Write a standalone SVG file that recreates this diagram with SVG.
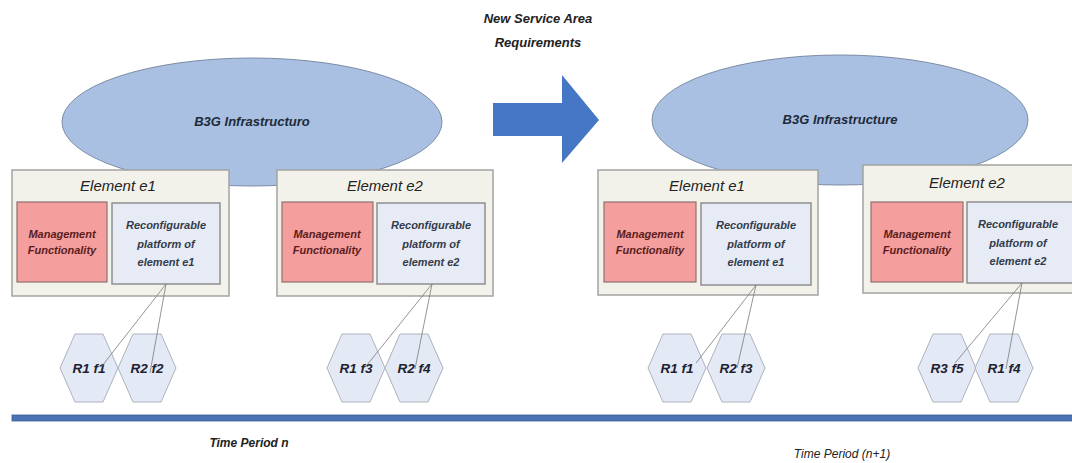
<svg xmlns="http://www.w3.org/2000/svg" width="1072" height="463" viewBox="0 0 1072 463">
<style>
text{font-family:"Liberation Sans",Arial,sans-serif;font-style:italic;fill:#222;text-anchor:middle}
.cloud{fill:#a9c0e2;stroke:#7d8ca6;stroke-width:1}
.elem{fill:#f2f2ea;stroke:#a2a2a2;stroke-width:1.5}
.mgmt{fill:#f49e9e;stroke:#8e7070;stroke-width:1.2}
.reco{fill:#e7ebf6;stroke:#8e8e8e;stroke-width:1.5}
.hex{fill:#e3e9f5;stroke:#aeb2bc;stroke-width:1}
.t-cloud{font-size:13px;font-weight:bold;fill:#1e2a3a}
.t-elem{font-size:15px}
.t-mgmt{font-size:11px;font-weight:bold;fill:#5a1c1c}
.t-reco{font-size:11px;font-weight:bold;fill:#333b4a}
.t-hex{font-size:13.5px;font-weight:bold;fill:#1e2230}
.t-head{font-size:13px;font-weight:bold}
.t-time{font-size:12px}
.conn{stroke:#7a7a7a;stroke-width:0.8;fill:none}
</style>
<defs>
<polygon id="hexshape" points="-29,0 -14,-34 14,-34 29,0 14,34 -14,34"/>
</defs>
<rect width="1072" height="463" fill="#ffffff"/>

<g id="label-new-service">
<text class="t-head" x="538" y="23">New Service Area</text>
<text class="t-head" x="538" y="47">Requirements</text>
</g>

<g id="cloud-left">
<ellipse class="cloud" cx="252" cy="122" rx="190" ry="64"/>
<text class="t-cloud" x="252" y="126">B3G Infrastructuro</text>
</g>
<g id="cloud-right">
<ellipse class="cloud" cx="840" cy="120" rx="188" ry="65"/>
<text class="t-cloud" x="840" y="124">B3G Infrastructure</text>
</g>

<g id="transition-arrow">
<polygon points="493,103 562,103 562,75 599,120 562,163 562,136 493,136" fill="#4677c4"/>
</g>

<g id="left-e1">
<rect class="elem" x="12" y="170" width="217" height="126"/>
<text class="t-elem" x="118" y="191">Element e1</text>
<rect class="mgmt" x="17" y="202" width="90" height="80"/>
<text class="t-mgmt" x="62" y="238">Management</text>
<text class="t-mgmt" x="62" y="254">Functionality</text>
<rect class="reco" x="112" y="203" width="108" height="81"/>
<text class="t-reco" x="166" y="229">Reconfigurable</text>
<text class="t-reco" x="166" y="248">platform of</text>
<text class="t-reco" x="166" y="266">element e1</text>
</g>

<g id="left-e2">
<rect class="elem" x="277" y="170" width="216" height="126"/>
<text class="t-elem" x="385" y="191">Element e2</text>
<rect class="mgmt" x="282" y="202" width="91" height="80"/>
<text class="t-mgmt" x="327" y="238">Management</text>
<text class="t-mgmt" x="327" y="254">Functionality</text>
<rect class="reco" x="377" y="203" width="108" height="81"/>
<text class="t-reco" x="431" y="229">Reconfigurable</text>
<text class="t-reco" x="431" y="248">platform of</text>
<text class="t-reco" x="431" y="266">element e2</text>
</g>

<g id="right-e1">
<rect class="elem" x="598" y="170" width="220" height="125"/>
<text class="t-elem" x="707" y="191">Element e1</text>
<rect class="mgmt" x="604" y="202" width="92" height="80"/>
<text class="t-mgmt" x="650" y="238">Management</text>
<text class="t-mgmt" x="650" y="254">Functionality</text>
<rect class="reco" x="701" y="203" width="110" height="82"/>
<text class="t-reco" x="756" y="229">Reconfigurable</text>
<text class="t-reco" x="756" y="248">platform of</text>
<text class="t-reco" x="756" y="266">element e1</text>
</g>

<g id="right-e2">
<rect class="elem" x="863" y="165" width="220" height="128"/>
<text class="t-elem" x="967" y="188">Element e2</text>
<rect class="mgmt" x="871" y="202" width="92" height="80"/>
<text class="t-mgmt" x="917" y="238">Management</text>
<text class="t-mgmt" x="917" y="254">Functionality</text>
<rect class="reco" x="967" y="202" width="110" height="81"/>
<text class="t-reco" x="1018" y="228">Reconfigurable</text>
<text class="t-reco" x="1018" y="247">platform of</text>
<text class="t-reco" x="1018" y="265">element e2</text>
</g>

<g id="hex-l-r1f1"><use href="#hexshape" class="hex" x="89" y="368"/><text class="t-hex" x="89" y="373">R1 f1</text></g>
<g id="hex-l-r2f2"><use href="#hexshape" class="hex" x="147" y="368"/><text class="t-hex" x="147" y="373">R2 f2</text></g>
<g id="hex-l-r1f3"><use href="#hexshape" class="hex" x="356" y="368"/><text class="t-hex" x="356" y="373">R1 f3</text></g>
<g id="hex-l-r2f4"><use href="#hexshape" class="hex" x="414" y="368"/><text class="t-hex" x="414" y="373">R2 f4</text></g>
<g id="hex-r-r1f1"><use href="#hexshape" class="hex" x="677" y="368"/><text class="t-hex" x="677" y="373">R1 f1</text></g>
<g id="hex-r-r2f3"><use href="#hexshape" class="hex" x="736" y="368"/><text class="t-hex" x="736" y="373">R2 f3</text></g>
<g id="hex-r-r3f5"><use href="#hexshape" class="hex" x="947" y="368"/><text class="t-hex" x="947" y="373">R3 f5</text></g>
<g id="hex-r-r1f4"><use href="#hexshape" class="hex" x="1004" y="368"/><text class="t-hex" x="1004" y="373">R1 f4</text></g>

<g id="connectors">
<line class="conn" x1="166" y1="284" x2="102" y2="366"/>
<line class="conn" x1="166" y1="284" x2="150" y2="373"/>
<line class="conn" x1="432" y1="284" x2="367" y2="365"/>
<line class="conn" x1="432" y1="284" x2="415" y2="369"/>
<line class="conn" x1="756" y1="285" x2="696" y2="363"/>
<line class="conn" x1="756" y1="285" x2="737" y2="368"/>
<line class="conn" x1="1022" y1="283" x2="955" y2="363"/>
<line class="conn" x1="1022" y1="283" x2="1006" y2="369"/>
</g>

<g id="timeline">
<rect x="12" y="415" width="1062" height="6" fill="#4a72b4" stroke="#3b5d96" stroke-width="0.8"/>
</g>

<g id="labels-time">
<text class="t-time" x="249" y="447" font-weight="bold">Time Period n</text>
<text class="t-time" x="842" y="458">Time Period (n+1)</text>
</g>
</svg>
